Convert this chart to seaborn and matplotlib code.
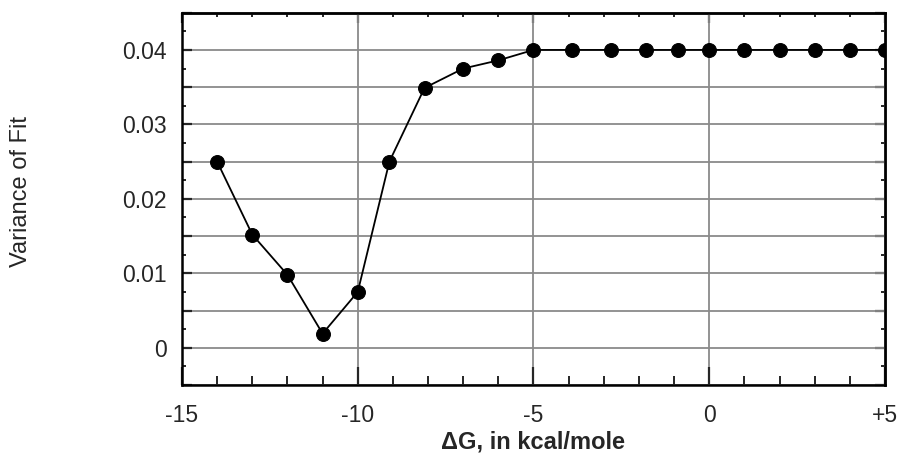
import numpy as np
import pandas as pd
import seaborn as sns
import matplotlib
matplotlib.use("Agg")
import matplotlib.pyplot as plt
from matplotlib.ticker import MultipleLocator, FixedFormatter, FixedLocator

# =============================
# Data
# =============================
delta_g = [-14, -13, -12, -11, -10, -9.1, -8.1, -7, -6, -5,
           -3.9, -2.8, -1.8, -0.9, 0, 1, 2, 3, 4, 5]
variance = [0.025, 0.0152, 0.0098, 0.0019, 0.0075, 0.025, 0.0349, 0.0375, 0.0386, 0.04,
            0.04, 0.04, 0.04, 0.04, 0.04, 0.04, 0.04, 0.04, 0.04, 0.04]

x_ticks = [-15, -10, -5, 0, 5]
x_tick_labels = ["-15", "-10", "-5", "0", "+5"]
y_ticks = [0, 0.01, 0.02, 0.03, 0.04]
y_tick_labels = ["0", "0.01", "0.02", "0.03", "0.04"]

df = pd.DataFrame({"dG": delta_g, "var": variance})

# =============================
# Style
# =============================
sns.set_style("ticks")
plt.rcParams["font.family"] = ["Liberation Sans", "DejaVu Sans"]

fig = plt.figure(figsize=(9.05, 4.55), dpi=100)
ax = fig.add_axes([0.2011, 0.1538, 0.7768, 0.8183])

sns.lineplot(data=df, x="dG", y="var", ax=ax, color="black", linewidth=1.3,
             marker="o", markersize=10, markeredgecolor="black",
             markerfacecolor="black", sort=False)

ax.set_xlim(-15, 5)
ax.set_ylim(-0.005, 0.045)

# gridlines every 5 kcal and every 0.005, labels only every 0.01
ax.xaxis.set_major_locator(FixedLocator(x_ticks))
ax.xaxis.set_major_formatter(FixedFormatter(x_tick_labels))
ax.xaxis.set_minor_locator(MultipleLocator(1))

grid_y = list(np.arange(-0.005, 0.0451, 0.005))
ax.set_yticks(grid_y)
ax.set_yticklabels([y_tick_labels[y_ticks.index(round(v, 3))] if round(v, 3) in y_ticks else ""
                    for v in grid_y])
ax.yaxis.set_minor_locator(MultipleLocator(0.0025))

ax.grid(True, which="major", color="#8a8a8a", linewidth=1.3)
ax.set_axisbelow(True)

for s in ax.spines.values():
    s.set_visible(True)
    s.set_linewidth(1.8)
    s.set_color("black")

ax.tick_params(axis="x", which="major", direction="in", length=13, width=1.6,
               labelsize=16.5, pad=13.5, bottom=True, top=False)
ax.tick_params(axis="x", which="minor", direction="in", length=6.5, width=1.4,
               bottom=True, top=False)
ax.tick_params(axis="y", which="major", direction="in", length=7.5, width=1.6,
               labelsize=16.5, pad=11, left=True, right=False)
ax.tick_params(axis="y", which="minor", direction="in", length=3, width=1.4,
               left=True, right=False)

# top and right ticks (shorter ones)
top = ax.secondary_xaxis("top")
top.xaxis.set_major_locator(FixedLocator(x_ticks))
top.xaxis.set_minor_locator(MultipleLocator(1))
top.tick_params(axis="x", which="major", direction="in", length=7, width=1.6, labeltop=False)
top.tick_params(axis="x", which="minor", direction="in", length=3, width=1.4)
top.spines["top"].set_linewidth(1.8)

right = ax.secondary_yaxis("right")
right.yaxis.set_major_locator(MultipleLocator(0.005))
right.yaxis.set_minor_locator(MultipleLocator(0.0025))
right.tick_params(axis="y", which="major", direction="in", length=7.5, width=1.6, labelright=False)
right.tick_params(axis="y", which="minor", direction="in", length=3, width=1.4)
right.spines["right"].set_linewidth(1.8)

ax.set_xlabel("\u0394G, in kcal/mole", fontsize=17, fontweight="bold", labelpad=3)
ax.set_ylabel("Variance of Fit", fontsize=17)
ax.yaxis.set_label_coords(-0.213, 0.52)

plt.savefig("out.png", dpi=100)
